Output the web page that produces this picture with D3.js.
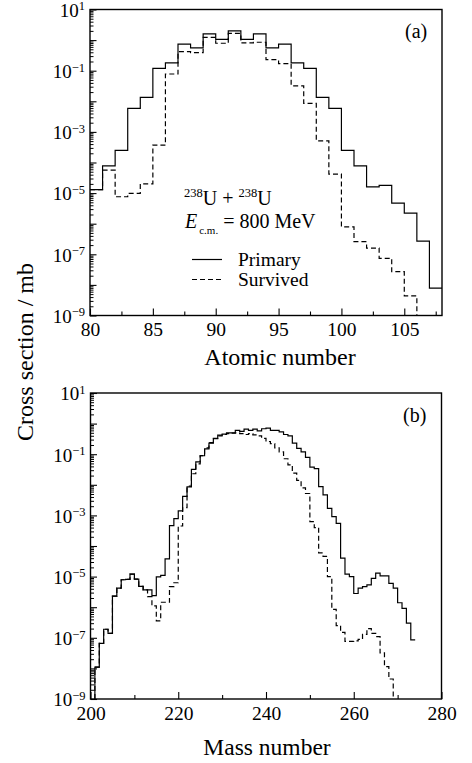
<!DOCTYPE html>
<html>
<head>
<meta charset="utf-8">
<script src="https://cdn.jsdelivr.net/npm/d3@7"></script>
<style>
  body { margin: 0; background: #fff; }
  svg { display: block; }
  svg text { font-family: "Liberation Serif", "Times New Roman", "DejaVu Serif", serif; fill: #000; }
</style>
</head>
<body>
<div id="chart"></div>
<script>
// ---- panel (a): cross section vs atomic number, one bin per Z = [z, z+1]
const zStart = 80
const zPrimary = [1.3e-5, 7.8e-5, 2.5e-4, 5.9e-3, 1.35e-2, 0.12, 0.18, 0.74, 0.56, 1.6,
    1.06, 2.0, 1.06, 1.6, 0.56, 0.74, 0.18, 0.12, 1.35e-2, 5.9e-3,
    2.5e-4, 7.8e-5, 1.6e-5, 1.8e-5, 4.7e-6, 2.2e-6, 2.7e-7, 7.8e-9]
const zSurvived = [1.3e-5, 5.6e-5, 7.6e-6, 9.8e-6, 2.0e-5, 3.7e-4, 7.8e-2, 0.42, 0.39, 1.23,
    0.79, 1.66, 0.81, 0.85, 0.23, 0.17, 3.2e-2, 8.5e-3, 5.1e-4, 4.2e-5,
    7.9e-7, 2.6e-7, 1.6e-7, 7.4e-8, 2.7e-8, 4.4e-9]
const zTicks = [80, 85, 90, 95, 100, 105]
const zMinorTicks = [82.5, 87.5, 92.5, 97.5, 102.5, 107.5]

// ---- panel (b): cross section vs mass number, one bin per A = [a, a+1]
const aStart = 201
const aPrimary = [1.1e-8, 6.6e-8, 1.9e-7, 1.4e-7, 2.3e-6, 4.2e-6, 7.9e-6, 8.1e-6, 1.2e-5, 8.3e-6,
    4.8e-6, 3.7e-6, 3.7e-6, 2.4e-6, 9.8e-6, 1.1e-5, 3.8e-5, 4.6e-4, 7.9e-4, 1.4e-3,
    4.2e-3, 8.5e-3, 3.2e-2, 5.6e-2, 8.9e-2, 0.15, 0.23, 0.32, 0.42, 0.45,
    0.50, 0.50, 0.60, 0.56, 0.66, 0.60, 0.66, 0.58, 0.68, 0.71,
    0.60, 0.60, 0.54, 0.44, 0.40, 0.23, 0.155, 0.12, 0.079, 0.038,
    0.034, 8.7e-3, 4.7e-3, 1.7e-3, 9.1e-4, 5.5e-4, 4.0e-5, 1.2e-5, 1.0e-5, 2.8e-6,
    4.2e-6, 4.7e-6, 5.4e-6, 8.7e-6, 1.3e-5, 1.05e-5, 1.05e-5, 6.0e-6, 4.2e-6, 1.4e-6,
    9.1e-7, 3.0e-7, 8.5e-8]
const aSurvived = [1.1e-8, 6.6e-8, 1.9e-7, 1.4e-7, 2.3e-6, 4.2e-6, 7.9e-6, 8.1e-6, 1.2e-5, 8.3e-6,
    4.8e-6, 3.7e-6, 2.2e-6, 1.1e-6, 3.6e-7, 1.45e-6, 1.45e-6, 4.7e-6, 6.3e-6, 4.5e-4,
    1.8e-3, 9.0e-3, 2.3e-2, 4.8e-2, 9.0e-2, 0.16, 0.24, 0.33, 0.40, 0.44,
    0.47, 0.49, 0.50, 0.47, 0.44, 0.47, 0.43, 0.40, 0.33, 0.26,
    0.22, 0.16, 0.12, 0.071, 0.045, 0.024, 0.014, 7.9e-3, 5.2e-3, 6.3e-4,
    4.0e-4, 6.0e-5, 4.6e-5, 1.0e-5, 8.5e-7, 2.5e-7, 1.5e-7, 7.6e-8, 7.6e-8, 7.9e-8,
    8.9e-8, 1.3e-7, 2.0e-7, 1.4e-7, 1.1e-7, 3.2e-8, 1.15e-8, 4.5e-9]
const aTicks = [200, 220, 240, 260, 280]
const aMinorTicks = [210, 230, 250, 270]

// shared log axis, exponents of the decades
const yExponents = [-9, -8, -7, -6, -5, -4, -3, -2, -1, 0, 1]

const W = 472, H = 763
const serif = 'Liberation Serif, Times New Roman, DejaVu Serif, serif'

const svg = d3.select('#chart').append('svg')
    .attr('width', W)
    .attr('height', H)
    .attr('font-family', serif)

const yMajor = yExponents.map(e => Math.pow(10, e))
const yMinor = []
yExponents.slice(0, -1).forEach(e => {
    for (let m = 2; m <= 9; m++) yMinor.push(m * Math.pow(10, e))
})

function stepPath(x, y, start, vals, rise, drop) {
    const floor = y.domain()[0]
    const pts = []
    if (rise) pts.push([start, floor])
    vals.forEach((v, i) => {
        pts.push([start + i, v])
        pts.push([start + i + 1, v])
    })
    if (drop) pts.push([start + vals.length, floor])
    return d3.line().x(d => x(d[0])).y(d => y(d[1]))(pts)
}

function drawPanel(p) {
    const x = d3.scaleLinear().domain(p.xDomain).range([p.left, p.right])
    const y = d3.scaleLog().domain([1e-9, 10]).range([p.bottom, p.top])

    svg.append('clipPath').attr('id', 'clip-' + p.id)
        .append('rect')
        .attr('x', p.left).attr('y', p.top)
        .attr('width', p.right - p.left).attr('height', p.bottom - p.top)

    // y ticks (inside), minor first
    svg.append('g')
        .attr('transform', 'translate(' + p.left + ',0)')
        .call(d3.axisLeft(y).tickValues(yMinor).tickSize(-3.5).tickFormat(''))
        .call(g => g.select('.domain').remove())
        .selectAll('line').attr('stroke-width', 1)

    const yAxis = svg.append('g')
        .attr('transform', 'translate(' + p.left + ',0)')
        .call(d3.axisLeft(y).tickValues(yMajor).tickSize(-6.5).tickPadding(5).tickFormat(''))
        .call(g => g.select('.domain').remove())
        .attr('font-family', serif)
    yAxis.selectAll('line').attr('stroke-width', 1.1)
    yAxis.selectAll('.tick text').each(function (d) {
        const e = Math.round(Math.log10(d))
        if (Math.abs(e) % 2 !== 1) return
        const t = d3.select(this)
            .attr('font-size', 19)
            .attr('font-family', serif)
            .attr('dy', '0.36em')
        t.append('tspan').text('10')
        t.append('tspan')
            .attr('font-size', 12.5)
            .attr('dy', -6.5)
            .text(e < 0 ? '\u2212' + Math.abs(e) : String(e))
    })

    // x ticks (inside)
    svg.append('g')
        .attr('transform', 'translate(0,' + p.bottom + ')')
        .call(d3.axisBottom(x).tickValues(p.xMinor).tickSize(-4).tickFormat(''))
        .call(g => g.select('.domain').remove())
        .selectAll('line').attr('stroke-width', 1.1)

    const xAxis = svg.append('g')
        .attr('transform', 'translate(0,' + p.bottom + ')')
        .call(d3.axisBottom(x).tickValues(p.xTicks).tickSize(-7).tickPadding(7))
        .call(g => g.select('.domain').remove())
        .attr('font-family', serif)
        .attr('font-size', 19.5)
    xAxis.selectAll('line').attr('stroke-width', 1.1)

    // curves: survived (dashed) under primary (solid)
    const curves = svg.append('g').attr('clip-path', 'url(#clip-' + p.id + ')')
    p.series.forEach(s => {
        curves.append('path')
            .attr('d', stepPath(x, y, s.start, s.values, s.rise, s.drop))
            .attr('fill', 'none')
            .attr('stroke', '#000')
            .attr('stroke-width', 1.2)
            .attr('stroke-dasharray', s.dash)
    })

    // frame
    svg.append('rect')
        .attr('x', p.left).attr('y', p.top)
        .attr('width', p.right - p.left).attr('height', p.bottom - p.top)
        .attr('fill', 'none')
        .attr('stroke', '#000')
        .attr('stroke-width', 1.4)

    svg.append('text')
        .attr('x', p.tagX).attr('y', p.tagY)
        .attr('font-size', 20)
        .text(p.tag)

    svg.append('text')
        .attr('x', p.titleX).attr('y', p.titleY)
        .attr('text-anchor', 'middle')
        .attr('font-size', p.titleSize)
        .text(p.title)
}

drawPanel({
    id: 'a', left: 90, right: 442, top: 9.5, bottom: 315.5,
    xDomain: [80, 108], xTicks: zTicks, xMinor: zMinorTicks,
    tag: '(a)', tagX: 405, tagY: 38,
    title: 'Atomic number', titleX: 280, titleY: 365, titleSize: 24,
    series: [
        { start: zStart, values: zSurvived, dash: '5,3', rise: false, drop: true },
        { start: zStart, values: zPrimary, dash: null, rise: false, drop: false }
    ]
})

drawPanel({
    id: 'b', left: 90.5, right: 441.5, top: 393, bottom: 699,
    xDomain: [200, 280], xTicks: aTicks, xMinor: aMinorTicks,
    tag: '(b)', tagX: 403, tagY: 422,
    title: 'Mass number', titleX: 267, titleY: 755, titleSize: 23.5,
    series: [
        { start: aStart, values: aSurvived, dash: '5,3', rise: true, drop: true },
        { start: aStart, values: aPrimary, dash: null, rise: true, drop: false }
    ]
})

// shared y title
svg.append('text')
    .attr('transform', 'translate(33,352) rotate(-90)')
    .attr('text-anchor', 'middle')
    .attr('font-size', 24)
    .text('Cross section / mb')

// reaction label and legend in panel (a)
const reaction = svg.append('text').attr('x', 184).attr('y', 205).attr('font-size', 20)
reaction.append('tspan').attr('font-size', 12.5).attr('dy', -8).text('238')
reaction.append('tspan').attr('dy', 8).text('U + ')
reaction.append('tspan').attr('font-size', 12.5).attr('dy', -8).text('238')
reaction.append('tspan').attr('dy', 8).text('U')

const energy = svg.append('text').attr('x', 185).attr('y', 228).attr('font-size', 20)
energy.append('tspan').attr('font-style', 'italic').text('E')
energy.append('tspan').attr('font-size', 11).attr('dy', 6).attr('dx', 2).text('c.m.')
energy.append('tspan').attr('dy', -6).text(' = 800 MeV')

const legendItems = [
    { label: 'Primary', dash: null, y: 259.5 },
    { label: 'Survived', dash: '5,3', y: 279.5 }
]
legendItems.forEach(d => {
    svg.append('line')
        .attr('x1', 192).attr('x2', 222)
        .attr('y1', d.y).attr('y2', d.y)
        .attr('stroke', '#000')
        .attr('stroke-width', 1.2)
        .attr('stroke-dasharray', d.dash)
    svg.append('text')
        .attr('x', 238).attr('y', d.y + 6.5)
        .attr('font-size', 19.5)
        .text(d.label)
})
</script>
</body>
</html>
